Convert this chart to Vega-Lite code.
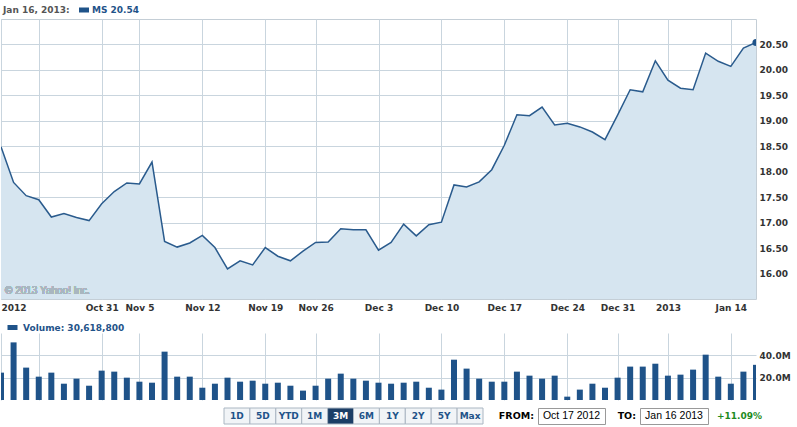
{
  "$schema": "https://vega.github.io/schema/vega-lite/v6.json",
  "padding": {"left": 0, "top": 4, "right": 0, "bottom": 0},
  "autosize": {"type": "pad"},
  "background": "white",
  "spacing": 7,
  "resolve": {"scale": {"color": "independent", "y": "independent"}, "legend": {"color": "independent"}, "axis": {"y": "independent"}},
  "config": {
    "font": "DejaVu Sans",
    "view": {"stroke": null},
    "axis": {"labelFont": "DejaVu Sans", "labelFontSize": 9, "labelFontWeight": "bold", "labelColor": "#333333", "gridColor": "#c9d5de", "gridWidth": 1, "ticks": false, "domain": false, "title": null},
    "legend": {"padding": 0}
  },
  "datasets": {
    "ms": [
      {"date": "2012-10-17", "price": 18.49, "volume": 24500000},
      {"date": "2012-10-18", "price": 17.79, "volume": 51600000},
      {"date": "2012-10-19", "price": 17.53, "volume": 29000000},
      {"date": "2012-10-22", "price": 17.45, "volume": 20900000},
      {"date": "2012-10-23", "price": 17.11, "volume": 24500000},
      {"date": "2012-10-24", "price": 17.18, "volume": 14600000},
      {"date": "2012-10-25", "price": 17.10, "volume": 19100000},
      {"date": "2012-10-26", "price": 17.04, "volume": 12800000},
      {"date": "2012-10-31", "price": 17.37, "volume": 26300000},
      {"date": "2012-11-01", "price": 17.61, "volume": 25400000},
      {"date": "2012-11-02", "price": 17.78, "volume": 20000000},
      {"date": "2012-11-05", "price": 17.76, "volume": 16400000},
      {"date": "2012-11-06", "price": 18.19, "volume": 15500000},
      {"date": "2012-11-07", "price": 16.63, "volume": 43300000},
      {"date": "2012-11-08", "price": 16.52, "volume": 20900000},
      {"date": "2012-11-09", "price": 16.60, "volume": 20900000},
      {"date": "2012-11-12", "price": 16.75, "volume": 11000000},
      {"date": "2012-11-13", "price": 16.51, "volume": 14600000},
      {"date": "2012-11-14", "price": 16.09, "volume": 20000000},
      {"date": "2012-11-15", "price": 16.25, "volume": 16400000},
      {"date": "2012-11-16", "price": 16.17, "volume": 17300000},
      {"date": "2012-11-19", "price": 16.51, "volume": 14600000},
      {"date": "2012-11-20", "price": 16.34, "volume": 15500000},
      {"date": "2012-11-21", "price": 16.25, "volume": 12800000},
      {"date": "2012-11-23", "price": 16.44, "volume": 8400000},
      {"date": "2012-11-26", "price": 16.61, "volume": 12800000},
      {"date": "2012-11-27", "price": 16.62, "volume": 19100000},
      {"date": "2012-11-28", "price": 16.88, "volume": 23600000},
      {"date": "2012-11-29", "price": 16.86, "volume": 19100000},
      {"date": "2012-11-30", "price": 16.86, "volume": 17300000},
      {"date": "2012-12-03", "price": 16.46, "volume": 15500000},
      {"date": "2012-12-04", "price": 16.61, "volume": 14600000},
      {"date": "2012-12-05", "price": 16.97, "volume": 15500000},
      {"date": "2012-12-06", "price": 16.74, "volume": 16400000},
      {"date": "2012-12-07", "price": 16.96, "volume": 11000000},
      {"date": "2012-12-10", "price": 17.01, "volume": 9300000},
      {"date": "2012-12-11", "price": 17.74, "volume": 36100000},
      {"date": "2012-12-12", "price": 17.70, "volume": 28100000},
      {"date": "2012-12-13", "price": 17.80, "volume": 19100000},
      {"date": "2012-12-14", "price": 18.04, "volume": 16400000},
      {"date": "2012-12-17", "price": 18.52, "volume": 16400000},
      {"date": "2012-12-18", "price": 19.12, "volume": 25400000},
      {"date": "2012-12-19", "price": 19.10, "volume": 21800000},
      {"date": "2012-12-20", "price": 19.27, "volume": 19100000},
      {"date": "2012-12-21", "price": 18.92, "volume": 21800000},
      {"date": "2012-12-24", "price": 18.95, "volume": 3000000},
      {"date": "2012-12-26", "price": 18.88, "volume": 9300000},
      {"date": "2012-12-27", "price": 18.78, "volume": 14600000},
      {"date": "2012-12-28", "price": 18.63, "volume": 11000000},
      {"date": "2012-12-31", "price": 19.11, "volume": 20000000},
      {"date": "2013-01-02", "price": 19.61, "volume": 29900000},
      {"date": "2013-01-03", "price": 19.57, "volume": 29900000},
      {"date": "2013-01-04", "price": 20.18, "volume": 32500000},
      {"date": "2013-01-07", "price": 19.80, "volume": 21800000},
      {"date": "2013-01-08", "price": 19.64, "volume": 22700000},
      {"date": "2013-01-09", "price": 19.61, "volume": 27200000},
      {"date": "2013-01-10", "price": 20.33, "volume": 40600000},
      {"date": "2013-01-11", "price": 20.17, "volume": 20900000},
      {"date": "2013-01-14", "price": 20.07, "volume": 14600000},
      {"date": "2013-01-15", "price": 20.43, "volume": 25400000},
      {"date": "2013-01-16", "price": 20.54, "volume": 31500000}
    ],
    "buttons": [
      {"b": "1D"}, {"b": "5D"}, {"b": "YTD"}, {"b": "1M"}, {"b": "3M"},
      {"b": "6M"}, {"b": "1Y"}, {"b": "2Y"}, {"b": "5Y"}, {"b": "Max"}
    ],
    "range": [
      {"fromLabel": "FROM:", "from": "Oct 17 2012", "toLabel": "TO:", "to": "Jan 16 2013", "change": "+11.09%"}
    ]
  },
  "vconcat": [
    {
      "width": 755,
      "height": 280,
      "view": {"stroke": "#c4ced6"},
      "data": {"name": "ms"},
      "encoding": {
        "x": {
          "field": "date", "type": "ordinal", "sort": null,
          "scale": {"type": "point", "padding": 0},
          "axis": {
            "values": ["2012-10-17", "2012-10-22", "2012-10-31", "2012-11-05", "2012-11-12", "2012-11-19", "2012-11-26", "2012-12-03", "2012-12-10", "2012-12-17", "2012-12-24", "2012-12-31", "2013-01-07", "2013-01-14"],
            "labelExpr": "datum.value == '2012-10-17' ? '2012' : datum.value == '2012-10-22' ? '' : datum.value == '2013-01-07' ? '2013' : utcFormat(toDate(datum.value), '%b %-d')",
            "labelAlign": {"condition": {"test": "datum.value == '2012-10-17'", "value": "left"}, "value": "center"},
            "labelAngle": 0,
            "labelPadding": 4,
            "grid": true
          }
        },
        "y": {"field": "price", "type": "quantitative", "scale": {"domain": [15.5, 21], "zero": false, "nice": false},
          "axis": {"orient": "right", "values": [16, 16.5, 17, 17.5, 18, 18.5, 19, 19.5, 20, 20.5], "format": ".2f", "labelPadding": 3, "grid": true}}
      },
      "layer": [
        {
          "mark": {"type": "area", "color": "#d6e5f0", "opacity": 1, "clip": true},
          "encoding": {"y2": {"datum": 15.5}}
        },
        {
          "mark": {"type": "line", "color": "#2a5b8d", "strokeWidth": 1.5, "clip": true}
        },
        {
          "transform": [{"filter": "datum.date == '2013-01-16'"}],
          "mark": {"type": "point", "filled": true, "size": 50, "opacity": 1, "clip": true},
          "encoding": {
            "color": {"datum": "MS 20.54", "scale": {"range": ["#1f5389"]},
              "legend": {"orient": "none", "legendX": 2, "legendY": -14, "title": "Jan 16, 2013:", "titleOrient": "left", "titleFont": "DejaVu Sans", "titleFontSize": 9, "titleFontWeight": "bold", "titleColor": "#555555", "titlePadding": 9, "titleBaseline": "middle", "symbolType": "M-1,-0.5H1V0.5H-1Z", "symbolSize": 100, "symbolStrokeWidth": 0, "labelFontSize": 9, "labelFont": "DejaVu Sans", "labelFontWeight": "bold", "labelColor": "#1f5389", "labelOffset": 3}}
          }
        },
        {
          "mark": {"type": "text", "align": "left", "baseline": "bottom", "dx": 4, "dy": -3, "font": "Liberation Sans", "fontSize": 10, "color": "#a9b6c0"},
          "encoding": {"x": {"datum": "2012-10-17"}, "y": {"datum": 15.5}, "text": {"value": "© 2013 Yahoo! Inc."}}
        }
      ]
    },
    {
      "width": 755,
      "height": 67,
      "data": {"name": "ms"},
      "mark": {"type": "rule", "strokeWidth": 6, "clip": true},
      "encoding": {
        "x": {
          "field": "date", "type": "ordinal", "sort": null,
          "scale": {"type": "point", "padding": 0},
          "axis": {
            "values": ["2012-10-17", "2012-10-22", "2012-10-31", "2012-11-05", "2012-11-12", "2012-11-19", "2012-11-26", "2012-12-03", "2012-12-10", "2012-12-17", "2012-12-24", "2012-12-31", "2013-01-07", "2013-01-14"],
            "labels": false, "grid": true
          }
        },
        "y": {"field": "volume", "type": "quantitative", "scale": {"domain": [0, 60000000], "nice": false},
          "axis": {"orient": "right", "values": [20000000, 40000000], "labelExpr": "format(datum.value / 1000000, '.1f') + 'M'", "labelPadding": 3, "grid": true}},
        "y2": {"datum": 0},
        "color": {"datum": "Volume: 30,618,800", "scale": {"range": ["#1f5389"]},
          "legend": {"orient": "none", "legendX": 4, "legendY": -13, "title": null, "symbolType": "M-1,0H1", "symbolSize": 100, "symbolStrokeWidth": 5, "labelFontSize": 9, "labelFont": "DejaVu Sans", "labelFontWeight": "bold", "labelColor": "#1f5389", "labelOffset": 3}}
      }
    },
    {
      "spacing": 3,
      "hconcat": [
        {
          "width": 219, "height": 16,
          "data": {"name": "range"},
          "mark": {"type": "text", "opacity": 0},
          "encoding": {"text": {"value": ""}}
        },
        {
          "width": 259, "height": 16,
          "data": {"name": "buttons"},
          "encoding": {"x": {"field": "b", "type": "nominal", "sort": null, "scale": {"paddingInner": 0, "paddingOuter": 0}, "axis": null}},
          "layer": [
            {
              "mark": {"type": "bar", "stroke": "#aab6c2", "strokeWidth": 1},
              "encoding": {"color": {"condition": {"test": "datum.b == '3M'", "value": "#1c3e66"}, "value": "#f1f4f7"}}
            },
            {
              "mark": {"type": "text", "fontSize": 9, "fontWeight": "bold", "font": "DejaVu Sans"},
              "encoding": {"text": {"field": "b"}, "color": {"condition": {"test": "datum.b == '3M'", "value": "#ffffff"}, "value": "#1f5389"}}
            }
          ]
        },
        {
          "width": 47, "height": 16,
          "data": {"name": "range"},
          "mark": {"type": "text", "align": "right", "fontSize": 9.5, "fontWeight": "bold", "color": "#000000", "font": "DejaVu Sans"},
          "encoding": {"x": {"value": "width"}, "text": {"field": "fromLabel"}}
        },
        {
          "width": 67, "height": 16,
          "view": {"stroke": "#999999"},
          "data": {"name": "range"},
          "mark": {"type": "text", "fontSize": 10.5, "font": "Liberation Sans", "color": "#000000"},
          "encoding": {"text": {"field": "from"}}
        },
        {
          "width": 27, "height": 16,
          "data": {"name": "range"},
          "mark": {"type": "text", "align": "right", "fontSize": 9.5, "fontWeight": "bold", "color": "#000000", "font": "DejaVu Sans"},
          "encoding": {"x": {"value": "width"}, "text": {"field": "toLabel"}}
        },
        {
          "width": 68, "height": 16,
          "view": {"stroke": "#999999"},
          "data": {"name": "range"},
          "mark": {"type": "text", "fontSize": 10.5, "font": "Liberation Sans", "color": "#000000"},
          "encoding": {"text": {"field": "to"}}
        },
        {
          "width": 50, "height": 16,
          "data": {"name": "range"},
          "mark": {"type": "text", "align": "right", "fontSize": 9, "fontWeight": "bold", "color": "#1e8b1e", "font": "DejaVu Sans"},
          "encoding": {"x": {"value": "width"}, "text": {"field": "change"}}
        }
      ]
    }
  ]
}
